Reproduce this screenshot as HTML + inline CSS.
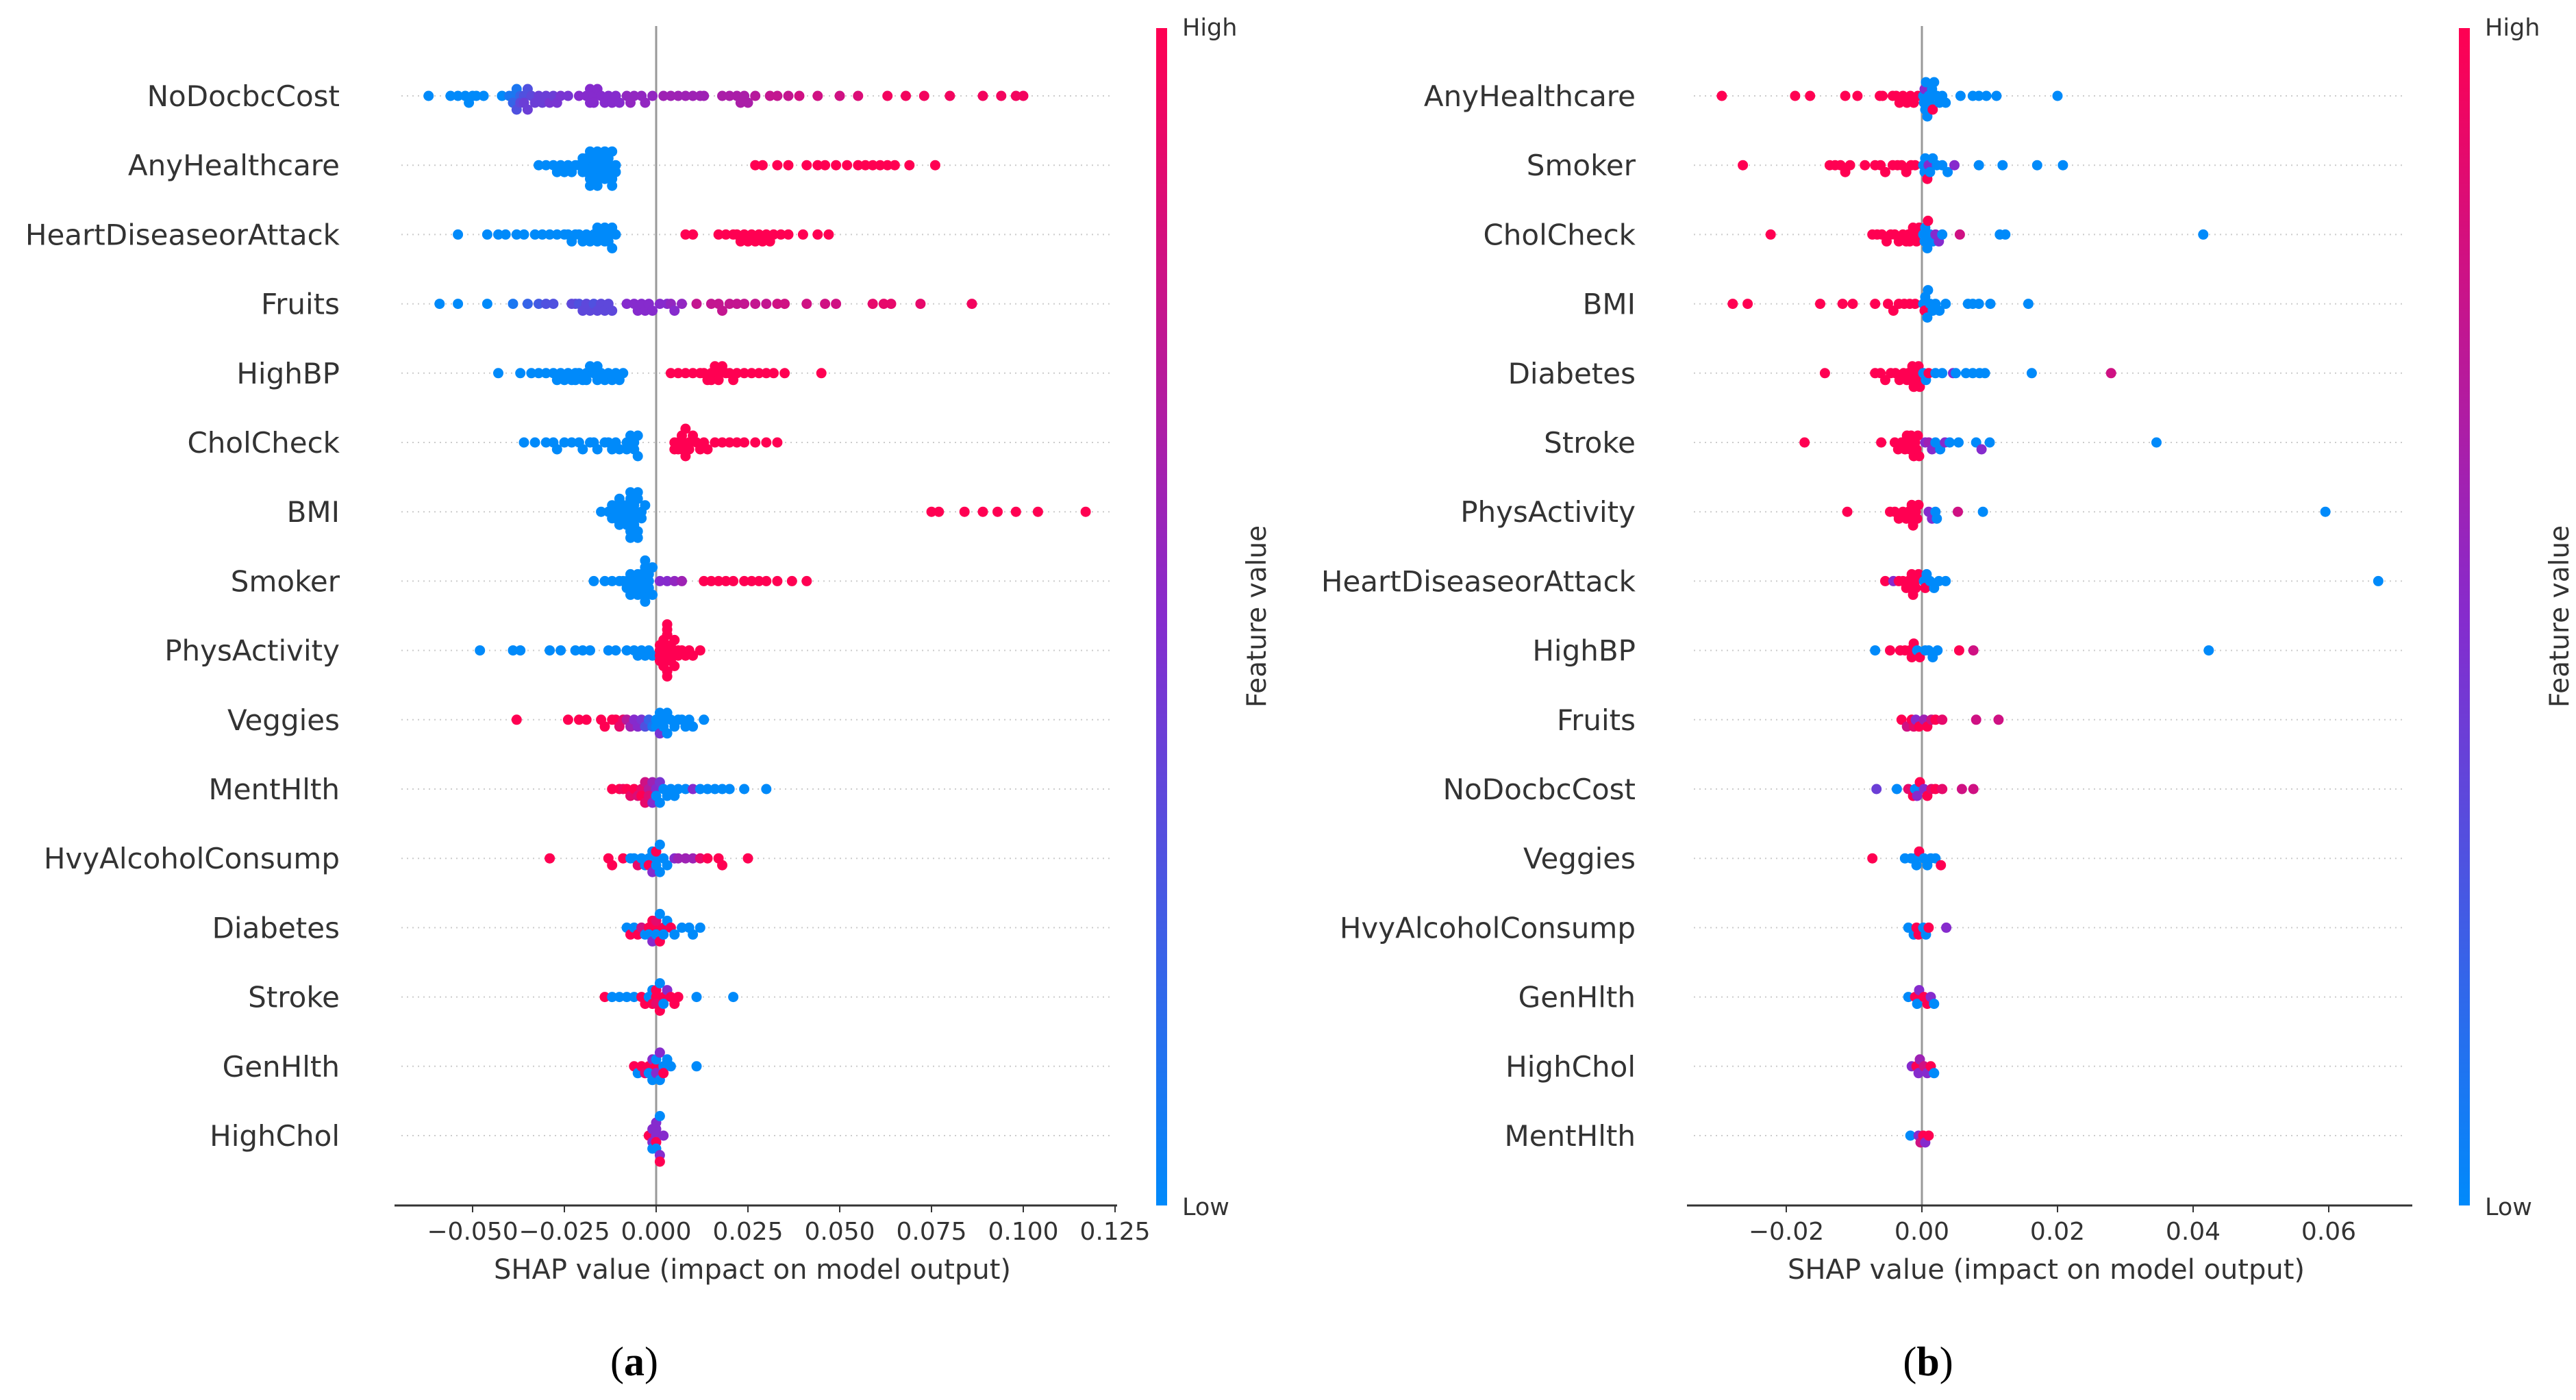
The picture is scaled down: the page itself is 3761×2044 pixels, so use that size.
<!DOCTYPE html>
<html><head><meta charset="utf-8"><title>SHAP summary plots</title>
<style>
html,body{margin:0;padding:0;background:#fff;}
svg{display:block;}
text{font-family:"DejaVu Sans","Liberation Sans",sans-serif;fill:#333;}
</style></head>
<body>
<svg id="fig" width="3761" height="2044" viewBox="0 0 3761 2044" xmlns="http://www.w3.org/2000/svg">
<defs>
<linearGradient id="cbar" x1="0" y1="1" x2="0" y2="0">
<stop offset="0" stop-color="#008afb"/><stop offset="0.5" stop-color="#862bcd"/><stop offset="1" stop-color="#ff0052"/>
</linearGradient>
</defs>
</svg>
<script>
// ---------- Panel (a) data ----------
const featuresA = ["NoDocbcCost","AnyHealthcare","HeartDiseaseorAttack","Fruits","HighBP","CholCheck","BMI","Smoker","PhysActivity","Veggies","MentHlth","HvyAlcoholConsump","Diabetes","Stroke","GenHlth","HighChol"];
const ticksA = [-0.05,-0.025,0,0.025,0.05,0.075,0.1,0.125];
const tickLabelsA = ["\u22120.050","\u22120.025","0.000","0.025","0.050","0.075","0.100","0.125"];
// SHAP values (x1000) per feature
const shapA = [
 [-62,-56,-54,-52,-51,-50,-49,-47,-42,-40,-39,-39,-38,-38,-37,-37,-36,-36,-35,-35,-34,-33,-32,-31,-30,-29,-28,-27,-26,-24,-21,-19,-18,-18,-17,-17,-16,-15,-14,-13,-12,-11,-10,-8,-7,-6,-4,-3,-1,2,4,6,8,10,12,13,18,20,22,23,24,25,27,31,33,36,39,44,50,55,63,68,73,80,89,94,98,100],
 [-32,-30,-28,-27,-26,-25,-24,-23,-22,-21,-20,-20,-19,-19,-18,-18,-17,-17,-16,-16,-15,-15,-14,-14,-13,-13,-12,-12,-11,-11,-19,-17,-15,-13,-12,-16,-18,27,29,33,36,41,44,46,49,52,55,57,59,61,63,65,69,76],
 [-54,-46,-43,-41,-38,-36,-33,-31,-29,-27,-25,-24,-23,-22,-21,-20,-19,-18,-17,-16,-15,-14,-13,-13,-12,-12,-11,-14,-16,8,10,17,19,21,22,23,24,25,26,27,28,29,30,31,32,34,36,40,44,47],
 [-59,-54,-46,-39,-35,-32,-30,-28,-23,-22,-21,-20,-19,-18,-17,-16,-15,-14,-13,-12,-8,-6,-5,-4,-3,-2,-1,1,3,4,5,7,11,15,17,18,20,22,24,27,30,33,35,41,46,49,59,62,64,72,86],
 [-43,-37,-34,-32,-30,-28,-27,-26,-25,-24,-23,-22,-21,-20,-19,-18,-17,-16,-15,-14,-13,-12,-11,-10,-9,-22,-19,-16,4,6,8,10,12,13,14,15,16,17,18,19,20,21,22,24,26,28,30,32,35,45,15,17],
 [-36,-33,-30,-28,-27,-25,-23,-21,-20,-18,-16,-14,-13,-11,-10,-8,-7,-6,-5,-5,-6,-8,-12,-17,5,5,6,6,7,7,8,8,9,10,11,12,14,16,18,20,22,24,27,30,33,7,9,13],
 [-15,-13,-12,-11,-10,-10,-9,-9,-8,-8,-8,-7,-7,-7,-6,-6,-6,-5,-5,-5,-4,-4,-3,-9,-7,-6,-5,-8,-10,-11,-12,75,77,84,89,93,98,104,117],
 [-17,-14,-12,-10,-9,-8,-7,-6,-5,-5,-4,-4,-4,-3,-3,-3,-2,-2,-1,-1,-6,-7,-8,-3,-2,1,3,5,7,13,15,17,19,21,24,26,28,30,33,37,41],
 [-48,-39,-37,-29,-26,-22,-20,-18,-13,-11,-8,-6,-5,-4,-3,-2,-1,1,1,1,2,2,2,2,3,3,3,3,4,4,4,5,5,6,6,7,8,9,10,12,2,3,4,1,2],
 [-38,-24,-21,-19,-15,-14,-12,-11,-10,-9,-8,-7,-6,-5,-4,-3,-2,-1,0,0,1,1,2,2,3,3,4,5,6,7,8,9,10,13],
 [-12,-10,-9,-8,-7,-6,-5,-4,-4,-3,-3,-2,-2,-1,-1,0,0,1,1,2,3,4,5,6,8,10,12,14,16,18,20,24,30],
 [-29,-13,-12,-9,-7,-6,-5,-4,-3,-2,-2,-1,-1,0,0,0,1,1,2,3,5,6,8,10,12,14,17,18,25],
 [-8,-7,-6,-5,-4,-3,-2,-2,-1,-1,0,0,0,1,1,2,2,3,4,5,7,9,10,12],
 [-14,-12,-10,-8,-6,-4,-3,-2,-1,-1,0,0,0,1,1,2,2,3,4,5,6,11,21],
 [-6,-5,-4,-3,-2,-2,-1,-1,0,0,0,1,1,2,2,3,4,11],
 [-2,-1,-1,-1,0,0,0,0,0,1,1,1,2]
];
// feature values (0 = low, 1 = high)
const fvA = [
 [0,0,0,0,0,0,0,0,0,0.1,0.1,0.2,0.1,0.3,0.2,0.35,0.3,0.4,0.3,0.4,0.35,0.4,0.4,0.4,0.4,0.45,0.4,0.45,0.45,0.45,0.5,0.5,0.5,0.5,0.5,0.5,0.5,0.5,0.5,0.5,0.5,0.5,0.5,0.55,0.55,0.55,0.55,0.55,0.55,0.6,0.6,0.6,0.6,0.6,0.6,0.6,0.65,0.65,0.65,0.65,0.65,0.65,0.7,0.75,0.75,0.75,0.8,0.8,0.8,0.85,0.95,0.95,0.95,0.95,0.95,0.95,0.95,0.95],
 [0,0,0,0,0,0,0,0,0,0,0,0,0,0,0,0,0,0,0,0,0,0,0,0,0,0,0,0,0,0,0,0,0,0,0,0,0,1,1,1,1,1,1,1,1,1,1,1,1,1,1,1,1,1],
 [0,0,0,0,0,0,0,0,0,0,0,0,0,0,0,0,0,0,0,0,0,0,0,0,0,0,0,0,0,1,1,1,1,1,1,1,1,1,1,1,1,1,1,1,1,1,1,1,1,1],
 [0,0,0,0.1,0.2,0.25,0.3,0.3,0.35,0.35,0.3,0.35,0.35,0.35,0.3,0.35,0.35,0.35,0.35,0.35,0.5,0.5,0.5,0.5,0.5,0.5,0.5,0.5,0.5,0.55,0.5,0.55,0.75,0.75,0.75,0.75,0.75,0.75,0.75,0.75,0.75,0.8,0.8,0.8,0.8,0.8,0.9,0.9,0.9,0.9,0.95],
 [0,0,0,0,0,0,0,0,0,0,0,0,0,0,0,0,0,0,0,0,0,0,0,0,0,0,0,0,1,1,1,1,1,1,1,1,1,1,1,1,1,1,1,1,1,1,1,1,1,1,1,1],
 [0,0,0,0,0,0,0,0,0,0,0,0,0,0,0,0,0,0,0,0,0,0,0,0,1,1,1,1,1,1,1,1,1,1,1,1,1,1,1,1,1,1,1,1,1,1,1,1],
 [0,0,0,0,0,0,0,0,0,0,0,0,0,0,0,0,0,0,0,0,0,0,0,0,0,0,0,0,0,0,0,1,1,1,1,1,1,1,1],
 [0,0,0,0,0,0,0,0,0,0,0,0,0,0,0,0,0,0,0,0,0,0,0,0,0,0.5,0.5,0.55,0.6,1,1,1,1,1,1,1,1,1,1,1,1],
 [0,0,0,0,0,0,0,0,0,0,0,0,0,0,0,0,0,1,1,1,1,1,1,1,1,1,1,1,1,1,1,1,1,1,1,1,1,1,1,1,1,1,1,1,1],
 [1,1,1,1,1,1,1,1,0.9,0.9,0.7,0.6,0.5,0.5,0.45,0.3,0.2,0.1,0,0,0,0.45,0,0,0,0,0,0,0,0,0,0,0,0],
 [1,1,0.95,1,0.9,1,0.85,0.9,1,0.8,0.9,0.7,0.85,0.6,0.5,0.5,0,0.45,0,0,0,0,0,0,0,0.5,0,0,0,0,0,0,0],
 [1,1,1,1,0,0,0.9,0,0,0,1,0,0.5,0,0,1,0,0,0,0,0.5,0.6,0.6,0.6,0.9,1,1,1,1],
 [0,1,0,1,0.8,0,1,0,1,0.5,1,0,0.9,1,0,1,0,0,1,0,0,0,0,0],
 [1,0,0,0,0,1,1,0,1,0,1,0.9,1,1,0,1,0,0.5,1,1,1,0,0],
 [1,0,1,0.9,1,0,0.5,0,1,0.5,0,0,0.5,0,1,0,0,0],
 [1,0.5,0.5,0,0.5,1,0.5,0,0.5,0.5,0,1,0.5]
];

// ---------- Panel (b) data ----------
const featuresB = ["AnyHealthcare","Smoker","CholCheck","BMI","Diabetes","Stroke","PhysActivity","HeartDiseaseorAttack","HighBP","Fruits","NoDocbcCost","Veggies","HvyAlcoholConsump","GenHlth","HighChol","MentHlth"];
const ticksB = [-0.02,0,0.02,0.04,0.06];
const tickLabelsB = ["\u22120.02","0.00","0.02","0.04","0.06"];
const shapB = [
 [-29.5,-18.7,-16.5,-11.3,-9.5,-6.2,-5.8,-4.3,-3.8,-3.3,-2.8,-2.2,-1.7,-1.2,-0.6,0.2,0.5,0.8,1.2,1.5,1.8,2.2,2.6,3,3.5,0.4,1,1.6,0.3,0.6,5.7,7.5,8.4,9.5,11,20],
 [-26.4,-13.6,-12.8,-12,-11.3,-10.6,-8.4,-6.9,-6.1,-5.4,-4.3,-3.6,-3,-2.3,-1.6,-1,0.2,0.5,0.8,1.2,1.6,2.2,3,3.8,4.8,0.4,1,8.4,11.9,17,20.8],
 [-22.3,-7.3,-6.6,-5.9,-5.2,-4.6,-4,-3.4,-2.8,-2.3,-1.8,-1.3,-0.8,-0.4,-2,-1,0.2,0.5,0.8,1.2,1.6,2,2.5,3,5.6,0.4,0.9,11.5,12.3,41.5],
 [-27.9,-25.7,-15,-11.7,-10.2,-6.9,-5,-4.2,-3.4,-2.6,-1.8,-1,0.2,0.5,0.8,1.2,1.6,2,2.6,3.5,0.4,0.9,6.8,7.5,8.4,10.1,15.7],
 [-14.3,-6.9,-6.1,-5.4,-4.6,-3.9,-3.3,-2.7,-2.2,-1.7,-1.2,-0.8,-0.5,-0.3,-1.4,-0.6,-2,0.2,0.6,1,2,3,4.6,5,6.5,7.5,8.5,9.3,16.2,27.9],
 [-17.3,-6,-4,-3.5,-3,-2.5,-2,-1.6,-1.2,-0.8,-0.4,-1,-1.8,-2.2,-0.6,0.5,1,1.5,2,2.7,3.4,4.1,5.4,8,8.8,10,34.6],
 [-11,-4.7,-4,-3.4,-2.8,-2.3,-1.8,-1.3,-0.9,-0.5,-1.5,-0.7,-2,1,1.5,2,2.2,5.3,9,59.5],
 [-5.4,-4.2,-3.4,-2.8,-2.3,-1.8,-1.3,-0.9,-0.5,-1.5,-1,-2,0.3,0.7,1.2,1.8,2.5,3.5,0.5,67.3],
 [-6.9,-4.7,-3.2,-2.5,-1.8,-1.2,-0.7,-0.3,-1.5,0.5,1,1.6,2.3,5.5,7.6,42.3],
 [-3,-2.2,-1.5,-0.9,-0.4,-1.2,0.3,0.8,1.4,2,3,8,11.3],
 [-6.7,-3.7,-2,-1.3,-0.7,-0.3,-1,0.3,0.8,1.4,2,3,5.9,7.6],
 [-7.3,-2.5,-1.6,-1,-0.4,-0.8,0.3,0.8,1.3,2,2.8],
 [-2,-1.2,-0.5,-0.8,0.2,0.6,1,3.6],
 [-2,-1,-0.4,-0.7,0.3,0.8,1.3,1.8],
 [-1.5,-0.8,-0.3,-0.5,0.3,0.8,1.3,1.8],
 [-1.7,-0.5,-0.2,0.2,0.5,1]
];
const fvB = [
 [1,1,1,1,1,1,1,1,1,1,1,1,1,1,1,0,0,0,0,0,0,0,0,0,0,0.5,0,1,0,0,0,0,0,0,0,0],
 [1,1,1,1,1,1,1,1,1,1,1,1,1,1,1,1,0,0,1,0,0,0,0,0,0.5,0,0.5,0,0,0,0],
 [1,1,1,1,1,1,1,1,1,1,1,1,1,1,1,1,0,0,0,0,0,0.5,0.5,0,0.8,0,1,0,0,0],
 [1,1,1,1,1,1,1,1,1,1,1,1,0,0,0,0,0,0,0,0,1,0,0,0,0,0,0],
 [1,1,1,1,1,1,1,1,1,1,1,1,1,1,1,1,1,0,0,1,0,0,0.5,0,0,0,0,0,0,0.8],
 [1,1,1,1,1,1,1,1,1,1,1,1,1,1,1,0.5,0.6,0.5,0,0,0.5,0,0,0,0.5,0,0],
 [1,1,1,1,1,1,1,1,1,1,1,1,1,0.5,0.5,0,0,0.8,0,0],
 [1,0.5,1,1,1,1,1,1,1,1,1,1,0,0,0,0,0,0,1,0],
 [0,1,1,1,1,1,0,1,1,0,0,0,0,1,0.8,0],
 [1,0.8,1,0.5,1,0.9,0.6,1,0.8,1,0.9,0.8,0.8],
 [0.4,0,0.9,1,0.5,1,0,0.5,1,0.9,1,0.9,0.8,0.8],
 [1,0,0,0,1,0,0,0,0,0,1],
 [0,0,1,1,0,0,1,0.5],
 [0,1,0.5,0,1,1,0.5,0],
 [0.5,1,0.6,0.5,0.8,0.5,1,0],
 [0,0.5,0.8,1,0.5,1]
];

// ---------- layout ----------
const svg = document.getElementById('fig');
const NS = 'http://www.w3.org/2000/svg';
const rowTop = 140, rowStep = 101.2, axisY = 1760, plotTop = 38, R = 7.5;
const panels = [
 {id:'a', feats:featuresA, shap:shapA, fv:fvA, ticks:ticksA, tl:tickLabelsA, zero:958, scale:5360, left:576, right:1631, labelRight:496, cbx:1688, letterX:926},
 {id:'b', feats:featuresB, shap:shapB, fv:fvB, ticks:ticksB, tl:tickLabelsB, zero:2806, scale:9900, left:2463, right:3522, labelRight:2388, cbx:3590, letterX:2815}
];
function mk(tag, attrs, parent){const e=document.createElementNS(NS,tag);for(const k in attrs)e.setAttribute(k,attrs[k]);(parent||svg).appendChild(e);return e;}
function colorOf(t){
 const a=[0,138,250], m=[134,43,205], b=[255,0,82];
 let c;
 if(t<0.5){const u=t/0.5;c=a.map((v,i)=>Math.round(v+(m[i]-v)*u));}
 else{const u=(t-0.5)/0.5;c=m.map((v,i)=>Math.round(v+(b[i]-v)*u));}
 return 'rgb('+c.join(',')+')';
}
panels.forEach(p=>{
 const g = mk('g',{});
 
 
 const xOf = v => p.zero + v/1000*p.scale;
 const xTick = v => p.zero + v*p.scale;
 p.feats.forEach((f,i)=>{
  const y = rowTop + i*rowStep;
  const gl = mk('line',{x1:p.left+10,x2:p.right-10,y1:y,y2:y,stroke:'#cccccc','stroke-width':2,'stroke-dasharray':'2,6'},g);
  
  
  const t = mk('text',{x:p.labelRight,y:y+15,'text-anchor':'end','font-size':42},g);
  t.textContent=f;
  
  
 });
 const zl = mk('line',{x1:p.zero,x2:p.zero,y1:plotTop,y2:axisY,stroke:'#999999','stroke-width':3},g);
 
 
 p.feats.forEach((f,i)=>{
  const yc = rowTop + i*rowStep;
  const vals = p.shap[i], fvs = p.fv[i];
  const idx = vals.map((v,k)=>k).sort((a,b)=>vals[a]-vals[b]);
  const bins = {};
  idx.forEach(k=>{const b=Math.round(xOf(vals[k])/10);(bins[b]=bins[b]||[]).push(k);});
  let maxL=1;
  for(const b in bins){maxL=Math.max(maxL,Math.ceil((bins[b].length-1)/2));}
  const step = Math.min(10, 38/maxL);
  const rg = mk('g',{},g);
  
  
  for(const b in bins){
   bins[b].forEach((k,j)=>{
    const layer = Math.ceil(j/2)*(j%2?1:-1);
    const c = mk('circle',{cx:xOf(vals[k]).toFixed(1),cy:(yc+layer*step).toFixed(1),r:R,fill:colorOf(fvs[k])},rg);
    
    
   });
  }
 });
 const ax = mk('line',{x1:p.left,x2:p.right,y1:axisY,y2:axisY,stroke:'#333','stroke-width':3},g);
 
 
 p.ticks.forEach((tv,k)=>{
  const x = xTick(tv);
  const tk = mk('line',{x1:x,x2:x,y1:axisY,y2:axisY+10,stroke:'#333','stroke-width':2},g);
  
  
  const tt = mk('text',{x:x,y:axisY+50,'text-anchor':'middle','font-size':36},g);
  tt.textContent = p.tl[k];
  
  
 });
 const xl = mk('text',{x:(p.left+p.right)/2-5,y:1867,'text-anchor':'middle','font-size':40},g);
 xl.textContent='SHAP value (impact on model output)';
 
 
 const cb = mk('rect',{x:p.cbx,y:41,width:16,height:axisY-41,fill:'url(#cbar)'},g);
 
 
 const hi = mk('text',{x:p.cbx+38,y:52,'font-size':35},g);
 hi.textContent='High';
 
 
 const lo = mk('text',{x:p.cbx+38,y:axisY+14,'font-size':35},g);
 lo.textContent='Low';
 
 
 const fvl = mk('text',{x:0,y:0,'text-anchor':'middle','font-size':39,transform:'translate('+(p.cbx+160)+',900) rotate(-90)'},g);
 fvl.textContent='Feature value';
 
 
 const lt = mk('text',{x:p.letterX,y:2008,'text-anchor':'middle','font-size':60,style:'font-family:"Liberation Serif",serif;fill:#000'},g);
 lt.innerHTML='(<tspan font-weight="bold">'+p.id+'</tspan>)';
 
 
});
</script>
</body></html>
